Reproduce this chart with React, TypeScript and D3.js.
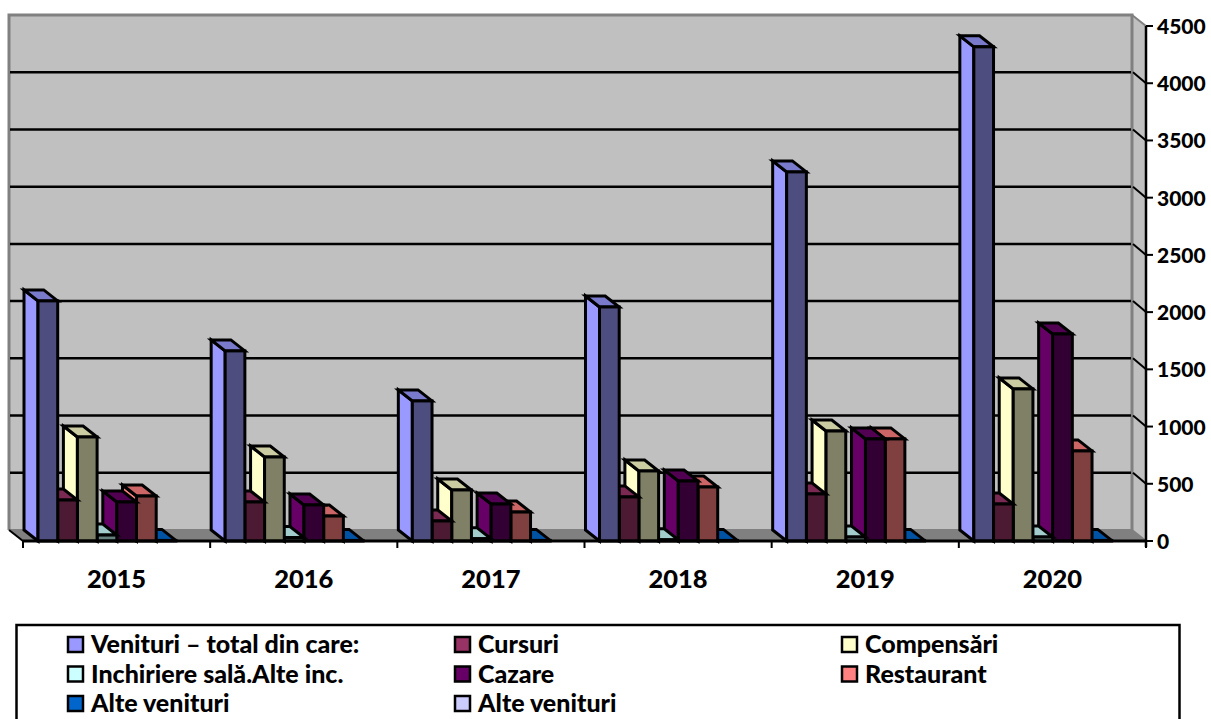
import React from "react";
import * as d3 from "d3";

const years = ["2015", "2016", "2017", "2018", "2019", "2020"];
const seriesNames = ["Venituri – total din care:", "Cursuri", "Compensări", "Inchiriere sală.Alte inc.", "Cazare", "Restaurant", "Alte venituri", "Alte venituri"];
const total = [2098, 1661, 1224, 2045, 3225, 4318];
const cursuri = [358, 341, 175, 385, 411, 323];
const compensari = [909, 734, 446, 612, 961, 1329];
const inchiriere = [52, 30, 20, 10, 35, 35];
const cazare = [341, 315, 323, 524, 892, 1809];
const restaurant = [393, 218, 253, 472, 892, 787];
const alte = [5, 5, 5, 5, 5, 5];
const alte2: number[] = [0, 0, 0, 0, 0, 0];
const values = [total, cursuri, compensari, inchiriere, cazare, restaurant, alte, alte2];
const colors = ["#9999FF", "#993366", "#FFFFCC", "#CCFFFF", "#660066", "#FF8080", "#0066CC", "#CCCCFF"];
const yTicks = [0, 500, 1000, 1500, 2000, 2500, 3000, 3500, 4000, 4500];

const W = 1211, H = 719;
const DX = -14, DY = -11;
const x0 = 23, x1 = 1146, yBase = 541, yTop = 26;
const FONT = "Lato, Carlito, sans-serif";

const xScale = d3.scaleBand<string>().domain(years).range([x0, x1]);
const yScale = d3.scaleLinear().domain([0, 4500]).range([yBase, yTop]);
const BAR = 19.7;
const BAR_START = 15;

const poly = (pts: [number, number][]) => pts.map((p) => p.join(",")).join(" ");
const shade = (c: string, k: number) => {
  const r = d3.rgb(c);
  return d3.rgb(r.r * k, r.g * k, r.b * k).formatHex();
};

const legendCols = [68, 455, 842];
const legendRows = [645, 674.5, 704];
const legendOrder = [0, 1, 2, 3, 4, 5, 6, 7];

export default function App() {
  const wallL = x0 + DX, wallR = x1 + DX, wallB = yBase + DY, wallT = yTop + DY;
  return (
    <svg width={W} height={H} style={{ position: "absolute", left: 0, top: 0, background: "#fff" }} fontFamily={FONT} fontWeight={900}>
      {/* walls */}
      <rect x={wallL} y={wallT} width={wallR - wallL} height={wallB - wallT} fill="#C0C0C0" />
      <polygon points={poly([[wallR, wallT], [x1, yTop], [x1, yBase], [wallR, wallB]])} fill="#C0C0C0" />
      <polygon points={poly([[wallL, wallB], [wallR, wallB], [x1, yBase], [x0, yBase]])} fill="#808080" stroke="#808080" strokeWidth={1} />
      <polyline points={poly([[wallL, wallB], [wallL, wallT], [wallR, wallT], [wallR, wallB]])} fill="none" stroke="#808080" strokeWidth={3} />
      <polyline points={poly([[wallR, wallT], [x1, yTop]])} fill="none" stroke="#808080" strokeWidth={2} />
      <polyline points={poly([[wallL, wallB], [wallR, wallB]])} fill="none" stroke="#808080" strokeWidth={2} />
      <polyline points={poly([[wallL, wallB], [x0, yBase]])} fill="none" stroke="#000" strokeWidth={2} />
      <polyline points={poly([[wallR, wallB], [x1, yBase]])} fill="none" stroke="#808080" strokeWidth={2} />
      {/* gridlines */}
      {yTicks.filter((t) => t > 0 && t < 4500).map((t) => {
        const y = yScale(t);
        return (
          <g key={t}>
            <polyline points={poly([[wallL + 1, y + DY], [wallR - 1, y + DY]])} fill="none" stroke="#000" strokeWidth={2.5} />
            <polyline points={poly([[wallR + 1, y + DY], [x1, y]])} fill="none" stroke="#000" strokeWidth={2} />
          </g>
        );
      })}
      {/* bars, right to left so nearer faces sit on top */}
      {[...years].reverse().map((yr) => {
        const i = years.indexOf(yr);
        const start = xScale(yr)! + BAR_START;
        return (
          <g key={yr}>
            {d3.range(values.length - 1, -1, -1).map((s) => {
              const v = values[s][i];
              if (!v) return null;
              const l = start + s * BAR, r = l + BAR;
              const t = yScale(v), c = colors[s];
              return (
                <g key={s} stroke="#000" strokeWidth={3} strokeLinejoin="miter">
                  <polygon points={poly([[l, yBase], [l + DX, yBase + DY], [l + DX, t + DY], [l, t]])} fill={c} />
                  <polygon points={poly([[l, t], [r, t], [r + DX, t + DY], [l + DX, t + DY]])} fill={shade(c, 0.8)} />
                  <rect x={l} y={t} width={BAR} height={yBase - t} fill={shade(c, 0.5)} />
                </g>
              );
            })}
          </g>
        );
      })}
      {/* axes */}
      <line x1={x0} x2={x1} y1={yBase} y2={yBase} stroke="#000" strokeWidth={3} />
      <line x1={x1} x2={x1} y1={yTop} y2={yBase + 6} stroke="#000" strokeWidth={2.5} />
      {[...years.map((y) => xScale(y)!), x1].map((x, i) => (
        <line key={i} x1={x} x2={x} y1={yBase} y2={yBase + 7} stroke="#000" strokeWidth={2} />
      ))}
      {yTicks.map((t) => (
        <g key={t}>
          <line x1={x1} x2={x1 + 7} y1={yScale(t)} y2={yScale(t)} stroke="#000" strokeWidth={2} />
          <text x={1157} y={yScale(t) + 8} fontSize={21} fill="#000">{t}</text>
        </g>
      ))}
      {years.map((y) => (
        <text key={y} x={xScale(y)! + xScale.bandwidth() / 2} y={588} fontSize={25.5} textAnchor="middle" fill="#000">{y}</text>
      ))}
      {/* legend */}
      <rect x={16.5} y={625} width={1163} height={110} fill="#fff" stroke="#000" strokeWidth={2.5} />
      {legendOrder.map((s) => {
        const col = s % 3, row = Math.floor(s / 3);
        const lx = legendCols[col], ly = legendRows[row];
        return (
          <g key={s}>
            <rect x={lx} y={ly - 8} width={15} height={15} fill={colors[s]} stroke="#000" strokeWidth={2.5} />
            <text x={lx + 23} y={ly + 8} fontSize={25} fill="#000">{seriesNames[s]}</text>
          </g>
        );
      })}
    </svg>
  );
}
